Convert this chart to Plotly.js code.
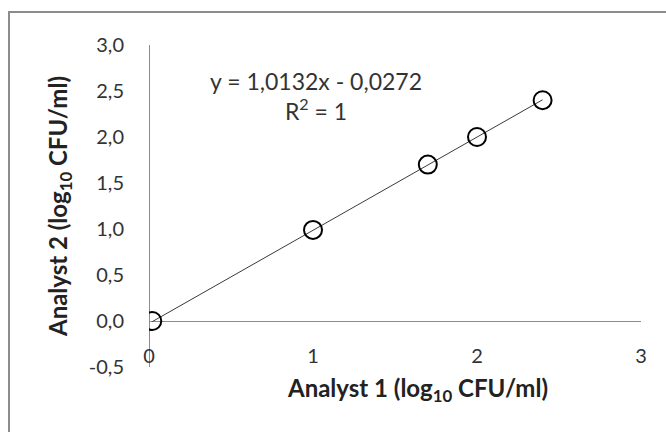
<!DOCTYPE html>
<html>
<head>
<meta charset="utf-8">
<script src="https://cdn.plot.ly/plotly-3.0.1.min.js"></script>
<style>html,body{margin:0;padding:0;background:#fff;}#chart{width:666px;height:432px;}</style>
</head>
<body>
<div id="chart"></div>
<script>
// Data
var analyst1 = [0.02, 1.0, 1.7, 2.0, 2.4];
var analyst2 = [0.0, 0.99, 1.7, 2.0, 2.4];
// Trendline coefficients as printed on the chart
var trendSlope = 1.0132;
var trendIntercept = -0.0272;
var equationText = "y = 1,0132x - 0,0272";
var r2Text = "R<sup>2</sup> = 1";
var xTickVals = [0, 1, 2, 3];
var xTickText = ["0", "1", "2", "3"];
var yTickVals = [-0.5, 0, 0.5, 1, 1.5, 2, 2.5, 3];
var yTickText = ["-0,5", "0,0", "0,5", "1,0", "1,5", "2,0", "2,5", "3,0"];
var xTitle = "Analyst 1 (log<sub>10</sub> CFU/ml)";
var yTitle = "Analyst 2 (log<sub>10</sub> CFU/ml)";

var xMin = Math.min.apply(null, analyst1);
var xMax = Math.max.apply(null, analyst1);
var trendX = [xMin, xMax];
var trendY = trendX.map(function (x) { return trendSlope * x + trendIntercept; });

var FONT = "Lato, 'Open Sans', sans-serif";

var traces = [
  {
    x: trendX, y: trendY, type: "scatter", mode: "lines",
    line: { color: "#3a3a3a", width: 1 }, hoverinfo: "skip", showlegend: false
  },
  {
    x: analyst1, y: analyst2, type: "scatter", mode: "markers",
    marker: { symbol: "circle-open", size: 18, color: "#000", line: { width: 2, color: "#000" } },
    showlegend: false
  }
];

var L = 149, R = 25, T = 45, B = 65, W = 666, H = 432;
var pw = W - L - R, ph = H - T - B;
function px2x(px) { return (px - L) / pw; }
function py2y(py) { return (H - B - py) / ph; }

var layout = {
  width: W, height: H,
  margin: { l: L, r: R, t: T, b: B, pad: 0 },
  paper_bgcolor: "#fff", plot_bgcolor: "#fff",
  font: { family: FONT, color: "#333", size: 20 },
  showlegend: false,
  xaxis: {
    range: [0, 3], tickvals: xTickVals, ticktext: xTickText,
    showgrid: false, showline: false, ticks: "",
    zeroline: true, zerolinecolor: "#8c8c8c", zerolinewidth: 1,
    anchor: "free", position: (0 - (-0.5)) / 3.5,
    ticklabelstandoff: 21,
    tickfont: { family: FONT, size: 20, color: "#333" }
  },
  yaxis: {
    range: [-0.5, 3], tickvals: yTickVals, ticktext: yTickText,
    showgrid: false, showline: false, ticks: "",
    zeroline: true, zerolinecolor: "#8c8c8c", zerolinewidth: 1,
    ticklabelstandoff: 24,
    tickfont: { family: FONT, size: 20, color: "#333" },
    title: { text: yTitle, standoff: 14, font: { family: FONT, size: 24, color: "#222", weight: "bold" } }
  },
  annotations: [
    {
      xref: "paper", yref: "paper", x: px2x(316), y: py2y(96),
      xanchor: "center", yanchor: "middle", showarrow: false, align: "center",
      text: equationText + "<br>" + r2Text,
      font: { family: FONT, size: 23, color: "#333" }
    },
    {
      xref: "paper", yref: "paper", x: px2x(417), y: py2y(389),
      xanchor: "center", yanchor: "middle", showarrow: false,
      text: xTitle,
      font: { family: FONT, size: 24, color: "#222", weight: "bold" }
    }
  ],
  shapes: [
    {
      type: "path", xref: "paper", yref: "paper",
      path: "M " + px2x(9) + "," + py2y(480) + " L " + px2x(9) + "," + py2y(12) + " L " + px2x(700) + "," + py2y(12),
      line: { color: "#8c8c8c", width: 2 }, layer: "below"
    }
  ]
};

Plotly.newPlot("chart", traces, layout, { displayModeBar: false, staticPlot: true });
</script>
</body>
</html>
